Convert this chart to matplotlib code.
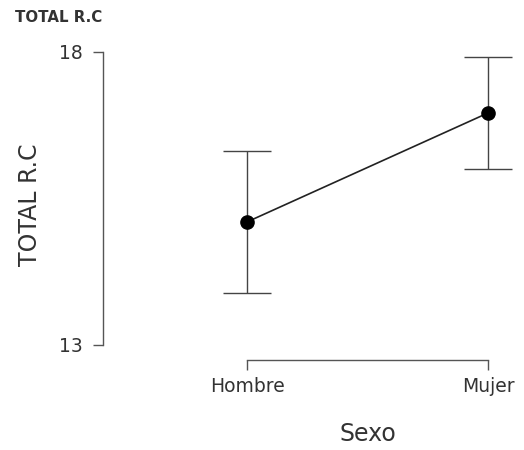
import matplotlib.pyplot as plt

# descriptive data
categories = ["Hombre", "Mujer"]
means = [15.10, 16.96]
lower = [13.89, 16.00]
upper = [16.31, 17.91]
y_ticks = [13, 18]

fig = plt.figure(figsize=(5.24, 4.5), dpi=100)
ax = fig.add_axes([113 / 524, 105 / 450, 397 / 524, 293 / 450])

x = list(range(len(categories)))
err_low = [m - lo for m, lo in zip(means, lower)]
err_high = [hi - m for m, hi in zip(means, upper)]

ax.errorbar(x, means, yerr=[err_low, err_high], fmt="none",
            ecolor="#444444", elinewidth=1.0, capsize=17, capthick=1.0,
            zorder=2, clip_on=False)
ax.plot(x, means, color="#222222", linewidth=1.2, zorder=3, clip_on=False)
ax.plot(x, means, "o", color="black", markersize=9.5, zorder=4, clip_on=False)

ax.set_xlim(-0.556, 1.091)
ax.set_ylim(13, 18)
ax.set_xticks(x)
ax.set_xticklabels(categories)
ax.set_yticks(y_ticks)

# JASP style: floating axes (offsets in points, 72 pt = 100 px here)
for side in ("top", "right"):
    ax.spines[side].set_visible(False)
ax.spines["left"].set_position(("outward", 7.2))
ax.spines["bottom"].set_position(("outward", 10.8))
ax.spines["left"].set_bounds(y_ticks[0], y_ticks[-1])
ax.spines["bottom"].set_bounds(x[0], x[-1])
for side in ("left", "bottom"):
    ax.spines[side].set_color("#555555")
    ax.spines[side].set_linewidth(1.0)

ax.tick_params(axis="both", colors="#555555", length=7.5, width=1.0,
               labelcolor="#333333", labelsize=13.5)
ax.tick_params(axis="y", pad=7)
ax.tick_params(axis="x", pad=5)

ax.set_xlabel("Sexo", fontsize=17, color="#333333")
ax.set_ylabel("TOTAL R.C", fontsize=17, color="#333333")
ax.xaxis.set_label_coords(0.642, -0.263)
ax.yaxis.set_label_coords(-0.179, 0.478)

fig.text(15 / 524, 1 - 17 / 450, "TOTAL R.C", fontsize=10.8,
         fontweight="bold", color="#333333", va="center", ha="left")

fig.savefig("out.png", dpi=100)
